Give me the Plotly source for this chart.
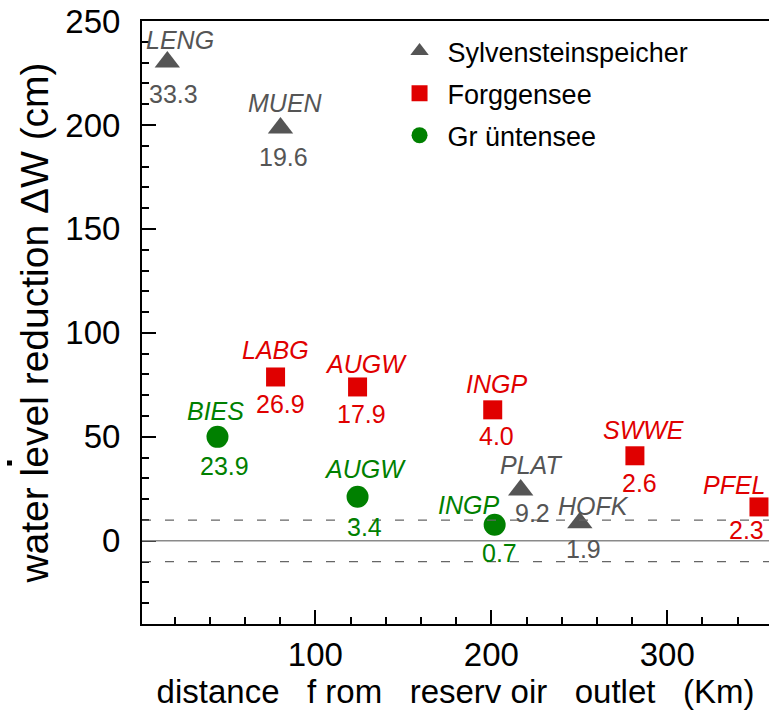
import plotly.graph_objects as go

# ---------------- data ----------------
syl_names = ["LENG", "MUEN", "PLAT", "HOFK"]
syl_x = [15.9, 80.2, 216.7, 250.3]
syl_y = [230.3, 198.6, 24.5, 8.7]
syl_vals = ["33.3", "19.6", "9.2", "1.9"]

for_names = ["LABG", "AUGW", "INGP", "SWWE", "PFEL"]
for_x = [77.4, 124.0, 200.8, 281.6, 352.1]
for_y = [78.8, 74.0, 63.0, 40.9, 16.3]
for_vals = ["26.9", "17.9", "4.0", "2.6", "2.3"]

gru_names = ["BIES", "AUGW", "INGP"]
gru_x = [44.4, 124.0, 201.9]
gru_y = [50.0, 21.2, 7.7]
gru_vals = ["23.9", "3.4", "0.7"]

y_ticks = [0, 50, 100, 150, 200, 250]
x_ticks = [100, 200, 300]
band = 10

# ---------------- style ----------------
FONT = "Liberation Sans, Arial, sans-serif"
GRAY, RED, GREEN = "#555555", "#e00000", "#008000"

# pixel offsets (dx, dy) of name and value labels relative to marker
syl_off = [((13, -22), (6, 32)), ((5, -25), (3, 29)), ((10, -25), (12, 23)), ((14, -17), (4, 26))]
for_off = [((0, -27), (5, 27)), ((8, -23), (4, 27)), ((4, -26), (4, 26)), ((9, -26), (5, 27)), ((-24, -22), (-12, 23))]
gru_off = [((-2, -26), (7, 29)), ((7, -28), (7, 30)), ((-26, -20), (5, 28))]

fig = go.Figure()

series = [
    ("Sylvensteinspeicher", syl_x, syl_y, syl_names, syl_vals, syl_off, GRAY, "triangle-up", 22),
    ("Forggensee", for_x, for_y, for_names, for_vals, for_off, RED, "square", 19),
    ("Gr üntensee", gru_x, gru_y, gru_names, gru_vals, gru_off, GREEN, "circle", 22),
]

annotations = []
for i, (name, xs, ys, names, vals, offs, col, sym, sz) in enumerate(series):
    fig.add_trace(go.Scatter(
        x=xs, y=ys, mode="markers", name=name, legendgroup=f"g{i}",
        marker=dict(symbol=sym, size=sz, color=col, line=dict(width=0)),
        cliponaxis=False,
    ))
    for xv, yv, nm, vl, ((ndx, ndy), (vdx, vdy)) in zip(xs, ys, names, vals, offs):
        annotations.append(dict(x=xv, y=yv, xref="x", yref="y", text=f"<i>{nm}</i>",
                                showarrow=False, xshift=ndx, yshift=-ndy,
                                font=dict(family=FONT, size=25, color=col)))
        annotations.append(dict(x=xv, y=yv, xref="x", yref="y", text=vl,
                                showarrow=False, xshift=vdx, yshift=-vdy,
                                font=dict(family=FONT, size=25, color=col)))

shapes = [
    dict(type="line", xref="paper", x0=0, x1=1, yref="y", y0=0, y1=0,
         line=dict(color="#8a8a8a", width=1.5)),
    dict(type="line", xref="paper", x0=0, x1=1, yref="y", y0=band, y1=band,
         line=dict(color="#666666", width=1.3, dash="9px,14px")),
    dict(type="line", xref="paper", x0=0, x1=1, yref="y", y0=-band, y1=-band,
         line=dict(color="#666666", width=1.3, dash="9px,14px")),
    # stray small mark at far left of the figure
    dict(type="rect", xref="paper", xsizemode="pixel", xanchor=0, x0=-135, x1=-130,
         yref="paper", ysizemode="pixel", yanchor=0, y0=158.5, y1=163.5,
         fillcolor="black", line=dict(width=0)),
]

sp = "\u00a0\u00a0\u00a0"
x_title = f"distance{sp}f rom{sp}reserv oir{sp}outlet{sp}(Km)"

fig.update_layout(
    width=769, height=716,
    margin=dict(l=142, r=0, t=21, b=92),
    plot_bgcolor="white", paper_bgcolor="white",
    font=dict(family=FONT, color="black"),
    showlegend=True,
    legend=dict(x=0.398, y=0.99, xanchor="left", yanchor="top",
                font=dict(family=FONT, size=27, color="black"),
                bgcolor="rgba(0,0,0,0)", tracegroupgap=4, traceorder="grouped",
                itemwidth=46),
    annotations=annotations,
    shapes=shapes,
    xaxis=dict(range=[1.5, 357.8], showgrid=False, zeroline=False,
               showline=True, linecolor="black", linewidth=2, mirror=True,
               ticks="inside", ticklen=14, tickwidth=1.5, tickcolor="black",
               tickvals=x_ticks, ticktext=[str(v) for v in x_ticks],
               tickfont=dict(family=FONT, size=33, color="black"),
               ticklabelstandoff=0,
               minor=dict(dtick=20, tick0=0, ticks="inside", ticklen=7, tickwidth=1.5, tickcolor="black"),
               title=dict(text=x_title, font=dict(family=FONT, size=33, color="black"), standoff=8)),
    yaxis=dict(range=[-40, 250], showgrid=False, zeroline=False,
               showline=True, linecolor="black", linewidth=2,
               ticks="inside", ticklen=14, tickwidth=1.5, tickcolor="black",
               tickvals=y_ticks, ticktext=[str(v) for v in y_ticks],
               tickfont=dict(family=FONT, size=33, color="black"),
               ticklabelstandoff=13,
               minor=dict(dtick=10, tick0=0, ticks="inside", ticklen=7, tickwidth=1.5, tickcolor="black"),
               title=dict(text="water level reduction ΔW (cm)",
                          font=dict(family=FONT, size=39, color="black"), standoff=5)),
)

fig.write_html("out.html")
